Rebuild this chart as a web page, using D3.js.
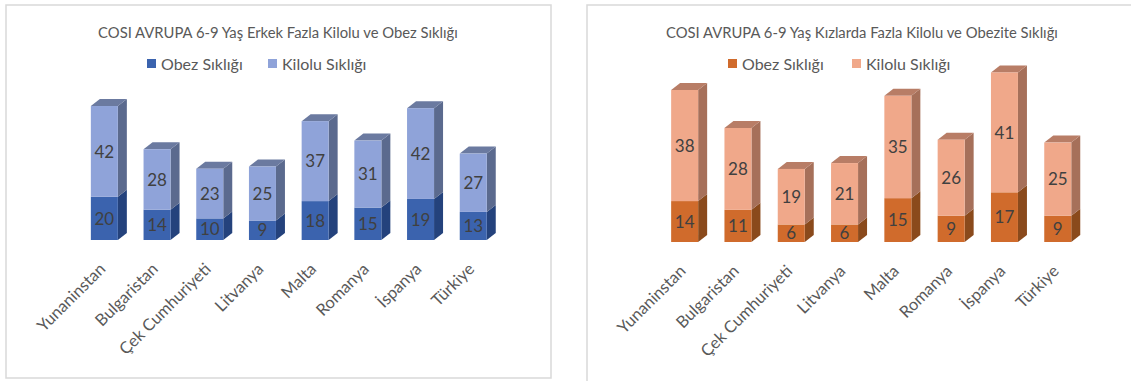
<!DOCTYPE html>
<html>
<head>
<meta charset="utf-8">
<script src="https://cdn.jsdelivr.net/npm/d3@7"></script>
<style>
  body { margin: 0; background: #fff; }
  text { font-family: Lato, "Open Sans", sans-serif; }
</style>
</head>
<body>
<svg id="chart" width="1131" height="381"></svg>
<script>
// categories and values
var countries = ["Yunaninstan", "Bulgaristan", "Çek Cumhuriyeti", "Litvanya", "Malta", "Romanya", "İspanya", "Türkiye"];
var seriesNames = ["Obez Sıklığı", "Kilolu Sıklığı"];
var boysObese = [20, 14, 10, 9, 18, 15, 19, 13];
var boysOverweight = [42, 28, 23, 25, 37, 31, 42, 27];
var girlsObese = [14, 11, 6, 6, 15, 9, 17, 9];
var girlsOverweight = [38, 28, 19, 21, 35, 26, 41, 25];
var titleBoys = "COSI AVRUPA 6-9 Yaş Erkek Fazla Kilolu ve Obez Sıklığı";
var titleGirls = "COSI AVRUPA 6-9 Yaş Kızlarda Fazla Kilolu ve Obezite Sıklığı";

var svg = d3.select("#chart");

//Draw one 3D stacked column chart
function drawChart(cfg) {
    var g = svg.append("g");

    g.append("rect")
        .attr("x", cfg.box[0]).attr("y", cfg.box[1])
        .attr("width", cfg.box[2]).attr("height", cfg.box[3])
        .attr("fill", "#fff")
        .attr("stroke", "#d9d9d9")
        .attr("stroke-width", 1.5);

    g.append("text")
        .attr("x", cfg.titleX).attr("y", 38)
        .attr("text-anchor", "middle")
        .attr("font-size", 14.8)
        .attr("fill", "#595959")
        .text(cfg.title);

    //legend
    var leg = g.selectAll(".leg")
        .data(seriesNames)
        .enter().append("g")
        .attr("transform", function(d, i) { return "translate(" + cfg.legendX[i] + ",59)"; });
    leg.append("rect")
        .attr("width", 9).attr("height", 9)
        .attr("fill", function(d, i) { return cfg.colors[i].front; });
    leg.append("text")
        .attr("x", 14).attr("y", 5)
        .attr("dy", "0.35em")
        .attr("font-size", 16)
        .attr("fill", "#595959")
        .text(function(d) { return d; });

    var rows = countries.map(function(c, i) {
        return {country: c, obese: cfg.obese[i], over: cfg.over[i]};
    });
    var stacked = d3.stack().keys(["obese", "over"])(rows);

    var x = d3.scaleBand().domain(countries).range(cfg.xRange).padding(0);
    var y = d3.scaleLinear().domain([0, 10]).range([cfg.base, cfg.base - 10 * cfg.unit]);

    var fw = 27, dx = 9, dy = 7;
    function left(d) { return x(d.data.country) + x.bandwidth() / 2 - fw / 2; }

    stacked.forEach(function(layer, li) {
        var col = cfg.colors[li];
        var lg = g.append("g");
        //side face
        lg.selectAll(".side").data(layer).enter().append("path")
            .attr("fill", col.side)
            .attr("d", function(d) {
                var x1 = left(d) + fw, y0 = y(d[0]), y1 = y(d[1]);
                return "M" + x1 + "," + y0 + "L" + (x1 + dx) + "," + (y0 - dy) +
                    "L" + (x1 + dx) + "," + (y1 - dy) + "L" + x1 + "," + y1 + "Z";
            });
        //top face only for the upper series
        if (li == stacked.length - 1) {
            lg.selectAll(".top").data(layer).enter().append("path")
                .attr("fill", col.top)
                .attr("d", function(d) {
                    var x0 = left(d), y1 = y(d[1]);
                    return "M" + x0 + "," + y1 + "L" + (x0 + dx) + "," + (y1 - dy) +
                        "L" + (x0 + fw + dx) + "," + (y1 - dy) + "L" + (x0 + fw) + "," + y1 + "Z";
                });
        }
        lg.selectAll(".front").data(layer).enter().append("rect")
            .attr("fill", col.front)
            .attr("x", left)
            .attr("y", function(d) { return y(d[1]); })
            .attr("width", fw)
            .attr("height", function(d) { return y(d[0]) - y(d[1]); });
        lg.selectAll(".val").data(layer).enter().append("text")
            .attr("x", function(d) { return left(d) + fw / 2; })
            .attr("y", function(d) { return (y(d[0]) + y(d[1])) / 2; })
            .attr("dy", "0.36em")
            .attr("text-anchor", "middle")
            .attr("font-size", 17)
            .attr("fill", "#404040")
            .text(function(d) { return d[1] - d[0]; });
    });

    //category labels
    g.selectAll(".cat").data(countries).enter().append("text")
        .attr("transform", function(d) {
            return "translate(" + (x(d) + x.bandwidth() / 2 - 2) + "," + (cfg.base + 26) + ") rotate(-45)";
        })
        .attr("text-anchor", "end")
        .attr("dy", "0.35em")
        .attr("font-size", 16.5)
        .attr("fill", "#595959")
        .text(function(d) { return d; });
}

drawChart({
    box: [6, 5, 545, 373],
    title: titleBoys,
    titleX: 278,
    legendX: [147, 268],
    obese: boysObese,
    over: boysOverweight,
    xRange: [78, 499.6],
    base: 240,
    unit: 2.161,
    colors: [
        {front: "#3b63ae", side: "#24427c", top: "#2f5095"},
        {front: "#8fa3d9", side: "#5b6a8e", top: "#6b7aa0"}
    ]
});

drawChart({
    box: [587, 5, 560, 390],
    title: titleGirls,
    titleX: 862,
    legendX: [728, 852],
    obese: girlsObese,
    over: girlsOverweight,
    xRange: [658, 1084.4],
    base: 242,
    unit: 2.923,
    colors: [
        {front: "#d06b2c", side: "#8a4a1c", top: "#a65a26"},
        {front: "#f0a88a", side: "#a6705a", top: "#b87d66"}
    ]
});
</script>
</body>
</html>
